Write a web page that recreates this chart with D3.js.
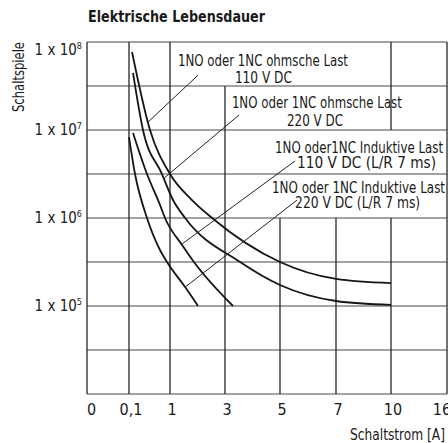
<!DOCTYPE html>
<html>
<head>
<meta charset="utf-8">
<script src="https://cdn.jsdelivr.net/npm/d3@7"></script>
<style>
  html, body { margin: 0; padding: 0; background: #fff; }
  svg { display: block; }
  text { font-family: "Liberation Sans Narrow", "Arial Narrow", "DejaVu Sans Condensed", sans-serif; fill: #1a1a1a; }
</style>
</head>
<body>
<svg id="chart" width="448" height="443"></svg>
<script>
// Switching current axis (non-uniform category steps) and tick labels
const xTicks = [0, 0.1, 1, 3, 5, 7, 10, 16];
const xTickLabels = ["0", "0,1", "1", "3", "5", "7", "10", "16"];

// Operating cycles axis (log), labelled decades
const yDecades = [1e5, 1e6, 1e7, 1e8];
const yDecadeExponents = ["5", "6", "7", "8"];

// Lifetime curves: [Schaltstrom A, Schaltspiele]
const ohmsch110 = [[0.166, 7.7e7], [0.561, 1e7], [1, 3.16e6], [1.8, 1.6e6], [2.53, 1e6], [5, 3.16e5], [7, 2.03e5], [10, 1.82e5]];
const ohmsch220 = [[0.188, 4.45e7], [0.407, 1e7], [0.824, 3.16e6], [1.11, 1.6e6], [1.55, 1e6], [3.55, 3.16e5], [5, 1.73e5], [7, 1.14e5], [10, 1.03e5]];
const induktiv110 = [[0.188, 9.25e6], [0.495, 3.16e6], [0.78, 1.41e6], [0.89, 1e6], [1.44, 4.93e5], [1.87, 3.16e5], [3.29, 1e5]];
const induktiv220 = [[0.1, 8.3e6], [0.232, 3.16e6], [0.495, 1e6], [0.78, 4.33e5], [0.934, 3.16e5], [1.55, 1.64e5], [2.02, 1e5]];

// Curve captions (two lines each)
const captionLines = [
  ["1NO oder 1NC ohmsche Last", "110 V DC"],
  ["1NO oder 1NC ohmsche Last", "220 V DC"],
  ["1NO oder1NC Induktive Last", "110 V DC (L/R 7 ms)"],
  ["1NO oder 1NC Induktive Last", "220 V DC (L/R 7 ms)"]
];

const svg = d3.select("#chart");

// Column widths of the grid differ for the first two steps
const colWidths = [42, 41, 55, 55, 56, 55, 56];
const xRange = colWidths.reduce((acc, w) => { acc.push(acc[acc.length - 1] + w); return acc; }, [87]);
const x = d3.scaleLinear().domain(xTicks).range(xRange);
const y = d3.scaleLog().domain([1e4, 1e8]).range([394, 42]);

const yLo = 1e4, yHi = 1e8;
const half = v => v * Math.sqrt(10);

// Horizontal grid: every half decade
const hLevels = d3.range(0, 9).map(i => Math.pow(10, 4 + i / 2));
svg.append("g").selectAll("line").data(hLevels).join("line")
  .attr("x1", x(0)).attr("x2", x(16))
  .attr("y1", d => y(d)).attr("y2", d => y(d))
  .attr("stroke", "#858585").attr("stroke-width", 1.6);

// Vertical grid: some columns leave room for the captions
const vSegments = [
  [0, yLo, yHi], [0.1, yLo, yHi], [1, yLo, yHi],
  [3, yLo, half(1e7)],
  [5, yLo, 1e6], [7, yLo, 1e6],
  [10, yLo, 1e6], [10, 1e7, yHi],
  [16, yLo, yHi]
];
svg.append("g").selectAll("line").data(vSegments).join("line")
  .attr("x1", d => x(d[0])).attr("x2", d => x(d[0]))
  .attr("y1", d => y(d[1])).attr("y2", d => y(d[2]))
  .attr("stroke", "#262626").attr("stroke-width", 1.3);

// Curves
const line = d3.line().x(d => x(d[0])).y(d => y(d[1])).curve(d3.curveMonotoneX);
svg.append("g").selectAll("path").data([ohmsch110, ohmsch220, induktiv110, induktiv220]).join("path")
  .attr("d", line).attr("fill", "none")
  .attr("stroke", "#151515").attr("stroke-width", 1.8);

// Leader lines from captions to curves: [[A, cycles], [A, cycles]]
const leaders = [
  [[2.02, 4.2e7], [0.517, 1.23e7]],
  [[3.51, 1.48e7], [0.846, 2.77e6]],
  [[5.54, 4.45e6], [1.44, 5.07e5]],
  [[5.61, 1.6e6], [1.55, 1.64e5]]
];
svg.append("g").selectAll("line").data(leaders).join("line")
  .attr("x1", d => x(d[0][0])).attr("y1", d => y(d[0][1]))
  .attr("x2", d => x(d[1][0])).attr("y2", d => y(d[1][1]))
  .attr("stroke", "#222").attr("stroke-width", 1);

// Caption lines in chart units: start [A, baseline cycles] and set width (px)
const captionPlacement = [
  [[1.29, 5.33e7, 170], [3.36, 3.42e7, 57]],
  [[3.25, 1.78e7, 170], [5.25, 1.11e7, 56]],
  [[4.82, 5.48e6, 168], [5.61, 3.7e6, 139]],
  [[4.71, 1.92e6, 173], [5.54, 1.3e6, 125]]
];
const cap = svg.append("g").attr("font-size", 15);
captionLines.forEach((lines, i) => {
  lines.forEach((t, j) => {
    const p = captionPlacement[i][j];
    cap.append("text")
      .attr("x", x(p[0])).attr("y", y(p[1]))
      .attr("textLength", p[2]).attr("lengthAdjust", "spacingAndGlyphs")
      .text(t);
  });
});

// X tick labels
const nTicks = xTicks.length;
svg.append("g").attr("font-size", 16).selectAll("text").data(xTicks).join("text")
  .attr("x", (d, i) => i === 0 ? x(d) : (i === nTicks - 1 ? x(d) - 5 : x(d) + 2))
  .attr("y", 415)
  .attr("text-anchor", (d, i) => i === 0 ? "start" : "middle")
  .text((d, i) => xTickLabels[i]);

// Y tick labels with superscript exponent
const yl = svg.append("g").attr("font-size", 15).selectAll("text").data(yDecades).join("text")
  .attr("x", 82)
  .attr("y", d => Math.max(y(d) + 5, y(yHi) + 13))
  .attr("text-anchor", "end");
yl.append("tspan").text("1 x 10");
yl.append("tspan").attr("font-size", 9).attr("dy", -6).text((d, i) => yDecadeExponents[i]);

// Titles
svg.append("text").attr("x", 88).attr("y", 22)
  .attr("font-size", 15).attr("font-weight", "bold")
  .attr("textLength", 177).attr("lengthAdjust", "spacingAndGlyphs")
  .text("Elektrische Lebensdauer");
svg.append("text").attr("transform", "translate(24,77) rotate(-90)")
  .attr("text-anchor", "middle").attr("font-size", 15)
  .attr("textLength", 70).attr("lengthAdjust", "spacingAndGlyphs")
  .text("Schaltspiele");
svg.append("text").attr("x", 350).attr("y", 440)
  .attr("font-size", 15)
  .attr("textLength", 95).attr("lengthAdjust", "spacingAndGlyphs")
  .text("Schaltstrom [A]");
</script>
</body>
</html>
